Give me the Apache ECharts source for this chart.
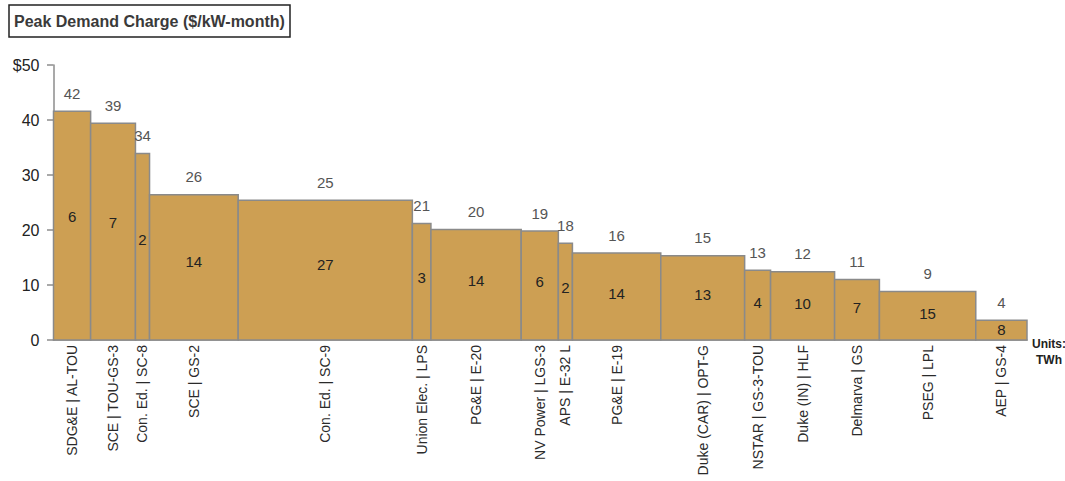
<!DOCTYPE html>
<html>
<head>
<meta charset="utf-8">
<script src="https://cdn.jsdelivr.net/npm/echarts@6/dist/echarts.min.js"></script>
<style>
  html, body { margin: 0; padding: 0; background: #ffffff; }
  #chart { width: 1065px; height: 481px; }
</style>
</head>
<body>
<div id="chart"></div>
<script>
// ---- Data ----
const categories = [
  'SDG&E | AL-TOU', 'SCE | TOU-GS-3', 'Con. Ed. | SC-8', 'SCE | GS-2',
  'Con. Ed. | SC-9', 'Union Elec. | LPS', 'PG&E | E-20', 'NV Power | LGS-3',
  'APS | E-32 L', 'PG&E | E-19', 'Duke (CAR) | OPT-G', 'NSTAR | GS-3-TOU',
  'Duke (IN) | HLF', 'Delmarva | GS', 'PSEG | LPL', 'AEP | GS-4'
];
// Bar widths: energy in TWh
const energyTWh = [5.8, 7.0, 2.2, 13.85, 27.2, 2.9, 14.1, 5.8, 2.2, 13.8, 13.1, 4.05, 10.0, 7.0, 15.05, 8.0];
// Bar heights: peak demand charge ($/kW-month)
const demandCharge = [41.6, 39.4, 33.9, 26.4, 25.4, 21.2, 20.1, 19.8, 17.6, 15.8, 15.3, 12.7, 12.4, 11.0, 8.8, 3.6];
// Printed labels above bars
const chargeLabels = [42, 39, 34, 26, 25, 21, 20, 19, 18, 16, 15, 13, 12, 11, 9, 4];
const yTicks = [0, 10, 20, 30, 40, 50];

// ---- Build ----
const starts = [];
let acc = 0;
energyTWh.forEach(w => { starts.push(acc); acc += w; });
const totalTWh = acc;

const seriesData = energyTWh.map((w, i) => [starts[i], starts[i] + w, demandCharge[i]]);

const FONT = '"Liberation Sans", Arial, sans-serif';

function renderItem(params, api) {
  const i = params.dataIndex;
  const x0 = api.value(0), x1 = api.value(1), v = api.value(2);
  const pTop = api.coord([x0, v]);
  const pBot = api.coord([x1, 0]);
  const cx = (pTop[0] + pBot[0]) / 2;
  const innerY = pBot[1] - (pBot[1] - pTop[1]) * 0.54;
  return {
    type: 'group',
    children: [
      {
        type: 'rect',
        shape: { x: pTop[0], y: pTop[1], width: pBot[0] - pTop[0], height: pBot[1] - pTop[1] },
        style: { fill: '#CD9F53', stroke: '#8a8a8a', lineWidth: 1.5 }
      },
      {
        type: 'text', x: cx, y: pTop[1] - 18,
        style: { text: String(chargeLabels[i]), font: '15px ' + FONT, fill: '#555555', align: 'center', verticalAlign: 'middle' }
      },
      {
        type: 'text', x: cx, y: innerY,
        style: { text: String(Math.round(energyTWh[i])), font: '15px ' + FONT, fill: '#222222', align: 'center', verticalAlign: 'middle' }
      },
      {
        type: 'text', x: cx, y: pBot[1] + 5, rotation: Math.PI / 2,
        style: { text: categories[i], font: '14px ' + FONT, fill: '#2a2a2a', align: 'right', verticalAlign: 'middle' }
      }
    ]
  };
}

const chart = echarts.init(document.getElementById('chart'), null, { renderer: 'svg' });
chart.setOption({
  animation: false,
  backgroundColor: '#ffffff',
  title: {
    text: 'Peak Demand Charge ($/kW-month)',
    left: 9, top: 5,
    padding: [8, 5, 8, 5],
    borderColor: '#222222', borderWidth: 1.5,
    textStyle: { fontFamily: FONT, fontSize: 16, fontWeight: 'bold', color: '#3a3a3a' }
  },
  grid: { left: 53.5, right: 38, top: 65, bottom: 141, containLabel: false },
  xAxis: {
    type: 'value', min: 0, max: totalTWh,
    axisLine: { show: true, lineStyle: { color: '#8c8c8c', width: 1.5 } },
    axisTick: { show: false }, axisLabel: { show: false }, splitLine: { show: false }
  },
  yAxis: {
    type: 'value', min: yTicks[0], max: yTicks[yTicks.length - 1], interval: 10,
    axisLine: { show: true, lineStyle: { color: '#8c8c8c', width: 1.5 } },
    axisTick: { show: true, length: 6.5, lineStyle: { color: '#8c8c8c', width: 1.5 } },
    axisLabel: {
      margin: 14, fontFamily: FONT, fontSize: 16, color: '#222222',
      formatter: v => (v === 50 ? '$50' : String(v))
    },
    splitLine: { show: false }
  },
  graphic: [
    { type: 'text', left: 1032, top: 338, style: { text: 'Units:', font: 'bold 12px ' + FONT, fill: '#222222' } },
    { type: 'text', left: 1036, top: 354, style: { text: 'TWh', font: 'bold 12px ' + FONT, fill: '#222222' } }
  ],
  series: [{
    type: 'custom',
    renderItem: renderItem,
    encode: { x: [0, 1], y: 2 },
    data: seriesData,
    clip: false
  }]
});
</script>
</body>
</html>
